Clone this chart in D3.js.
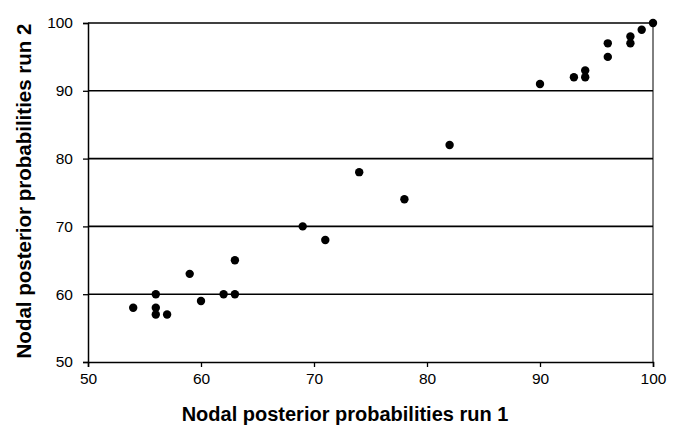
<!DOCTYPE html>
<html lang="en">
<head>
<meta charset="utf-8">
<title>Nodal posterior probabilities</title>
<script src="https://d3js.org/d3.v7.min.js"></script>
<style>
  body { margin: 0; background: #fff; }
  text { font-family: "Liberation Sans", Arial, sans-serif; fill: #000; }
</style>
</head>
<body>
<svg id="chart" width="678" height="426"></svg>
<script>
// run 1 vs run 2 values
var run1 = [54, 56, 56, 56, 57, 59, 60, 62, 63, 63, 69, 71, 74, 78, 82, 90, 93, 94, 94, 96, 96, 98, 98, 99, 100];
var run2 = [58, 60, 58, 57, 57, 63, 59, 60, 60, 65, 70, 68, 78, 74, 82, 91, 92, 93, 92, 97, 95, 98, 97, 99, 100];
var xTicks = [50, 60, 70, 80, 90, 100];
var yTicks = [50, 60, 70, 80, 90, 100];

var svg = d3.select("#chart");
var plotLeft = 88, plotRight = 653, plotTop = 23, plotBottom = 362;

var x = d3.scaleLinear().domain([50, 100]).range([plotLeft, plotRight]);
var y = d3.scaleLinear().domain([50, 100]).range([plotBottom, plotTop]);

// horizontal grid lines
svg.append("g")
  .selectAll("line")
  .data(yTicks.filter(function (d) { return d > 50; }))
  .enter().append("line")
  .attr("x1", plotLeft).attr("x2", plotRight)
  .attr("y1", function (d) { return y(d); })
  .attr("y2", function (d) { return y(d); })
  .attr("stroke", "#000").attr("stroke-width", 1.6);

// right border
svg.append("line")
  .attr("x1", plotRight).attr("x2", plotRight)
  .attr("y1", plotTop).attr("y2", plotBottom)
  .attr("stroke", "#000").attr("stroke-width", 1);

// axes
var xAxis = svg.append("g")
  .attr("transform", "translate(0," + plotBottom + ")")
  .call(d3.axisBottom(x).tickValues(xTicks).tickSize(5).tickPadding(6));
var yAxis = svg.append("g")
  .attr("transform", "translate(" + plotLeft + ",0)")
  .call(d3.axisLeft(y).tickValues(yTicks).tickSize(5).tickPadding(10));

[xAxis, yAxis].forEach(function (a) {
  a.select(".domain").attr("stroke", "#000").attr("stroke-width", 1.5);
  a.selectAll(".tick line").attr("stroke", "#000").attr("stroke-width", 1.3);
  a.selectAll(".tick text")
    .attr("fill", "#000")
    .style("font-family", "'Liberation Sans', Arial, sans-serif")
    .style("font-size", "15.5px");
});

// points
svg.append("g")
  .selectAll("circle")
  .data(run1.map(function (d, i) { return [d, run2[i]]; }))
  .enter().append("circle")
  .attr("cx", function (d) { return x(d[0]); })
  .attr("cy", function (d) { return y(d[1]); })
  .attr("r", 4.2)
  .attr("fill", "#000");

// axis titles
svg.append("text")
  .attr("x", 345)
  .attr("y", 421)
  .attr("text-anchor", "middle")
  .style("font-weight", "bold")
  .style("font-size", "20px")
  .text("Nodal posterior probabilities run 1");

svg.append("text")
  .attr("transform", "translate(31,191) rotate(-90)")
  .attr("text-anchor", "middle")
  .style("font-weight", "bold")
  .style("font-size", "20.5px")
  .text("Nodal posterior probabilities run 2");
</script>
</body>
</html>
